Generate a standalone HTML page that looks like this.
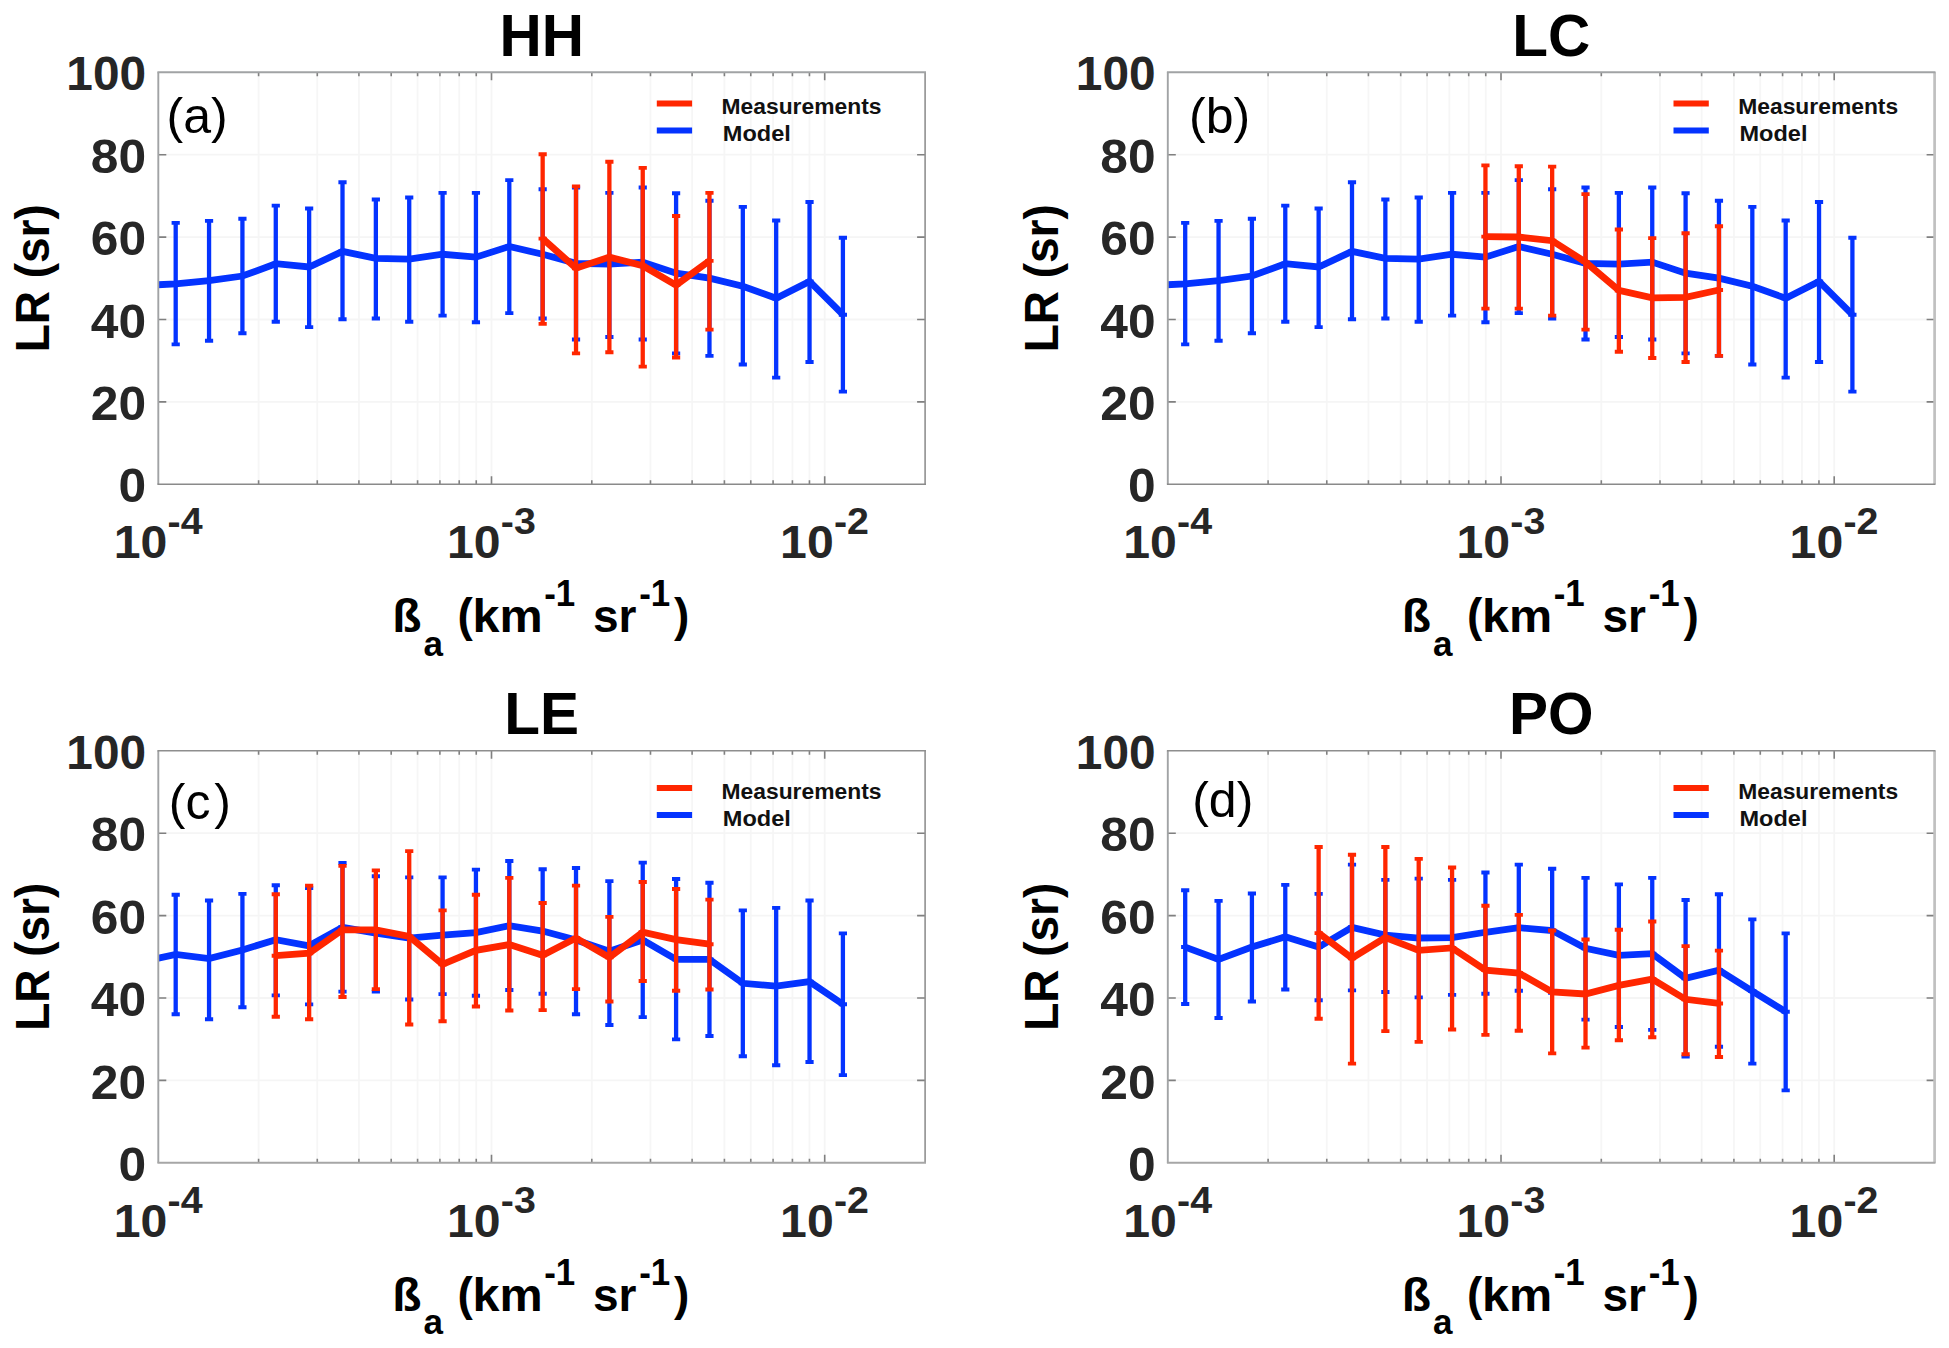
<!DOCTYPE html>
<html><head><meta charset="utf-8"><title>LR vs backscatter</title>
<style>
html,body{margin:0;padding:0;background:#fff;}
svg{display:block;font-family:"Liberation Sans",sans-serif;}
</style></head>
<body>
<svg width="1949" height="1348" viewBox="0 0 1949 1348">
<rect width="1949" height="1348" fill="#fff"/>
<g><clipPath id="cpa"><rect x="158.3" y="72.3" width="766.8" height="412"/></clipPath>
<path d="M258.6 72.3V484.3M317.28 72.3V484.3M358.91 72.3V484.3M391.2 72.3V484.3M417.58 72.3V484.3M439.89 72.3V484.3M459.21 72.3V484.3M476.25 72.3V484.3M591.8 72.3V484.3M650.48 72.3V484.3M692.11 72.3V484.3M724.4 72.3V484.3M750.78 72.3V484.3M773.09 72.3V484.3M792.41 72.3V484.3M809.45 72.3V484.3" stroke="#f6f6f6" stroke-width="1.8"/>
<path d="M491.5 72.3V484.3M824.7 72.3V484.3" stroke="#f5f5f5" stroke-width="1.8"/>
<path d="M158.3 401.9H925.1M158.3 319.5H925.1M158.3 237.1H925.1M158.3 154.7H925.1" stroke="#f5f5f5" stroke-width="1.8"/>
<g clip-path="url(#cpa)"><g stroke="#0433FF" fill="none"><path d="M142.34 224.67V346.33" stroke-width="4.3"/><path d="M138.24 224.97H146.44M138.24 346.03H146.44M138.24 285.5H146.44" stroke-width="3.9"/><path d="M175.7 222.62V344.68" stroke-width="4.3"/><path d="M171.6 222.92H179.8M171.6 344.38H179.8M171.6 283.85H179.8" stroke-width="3.9"/><path d="M209.06 220.56V340.98" stroke-width="4.3"/><path d="M204.96 220.86H213.16M204.96 340.68H213.16M204.96 280.57H213.16" stroke-width="3.9"/><path d="M242.42 218.5V333.59" stroke-width="4.3"/><path d="M238.32 218.81H246.52M238.32 333.29H246.52M238.32 276.05H246.52" stroke-width="3.9"/><path d="M275.78 205.35V322.08" stroke-width="4.3"/><path d="M271.68 205.65H279.88M271.68 321.78H279.88M271.68 263.72H279.88" stroke-width="3.9"/><path d="M309.14 208.23V327.42" stroke-width="4.3"/><path d="M305.04 208.53H313.24M305.04 327.12H313.24M305.04 267H313.24" stroke-width="3.9"/><path d="M342.5 181.93V319.61" stroke-width="4.3"/><path d="M338.4 182.23H346.6M338.4 319.31H346.6M338.4 251.38H346.6" stroke-width="3.9"/><path d="M375.86 199.19V318.79" stroke-width="4.3"/><path d="M371.76 199.49H379.96M371.76 318.49H379.96M371.76 258.37H379.96" stroke-width="3.9"/><path d="M409.22 197.13V322.08" stroke-width="4.3"/><path d="M405.12 197.43H413.32M405.12 321.78H413.32M405.12 259.19H413.32" stroke-width="3.9"/><path d="M442.58 192.61V315.91" stroke-width="4.3"/><path d="M438.48 192.91H446.68M438.48 315.61H446.68M438.48 254.26H446.68" stroke-width="3.9"/><path d="M475.94 192.61V322.49" stroke-width="4.3"/><path d="M471.84 192.91H480.04M471.84 322.19H480.04M471.84 257.14H480.04" stroke-width="3.9"/><path d="M509.3 179.87V313.45" stroke-width="4.3"/><path d="M505.2 180.17H513.4M505.2 313.15H513.4M505.2 246.45H513.4" stroke-width="3.9"/><path d="M542.66 188.91V318.79" stroke-width="4.3"/><path d="M538.56 189.21H546.76M538.56 318.49H546.76M538.56 254.26H546.76" stroke-width="3.9"/><path d="M576.02 187.27V339.75" stroke-width="4.3"/><path d="M571.92 187.57H580.12M571.92 339.45H580.12M571.92 263.3H580.12" stroke-width="3.9"/><path d="M609.38 192.61V337.28" stroke-width="4.3"/><path d="M605.28 192.91H613.48M605.28 336.98H613.48M605.28 264.13H613.48" stroke-width="3.9"/><path d="M642.74 187.27V339.75" stroke-width="4.3"/><path d="M638.64 187.57H646.84M638.64 339.45H646.84M638.64 262.07H646.84" stroke-width="3.9"/><path d="M676.1 193.02V353.72" stroke-width="4.3"/><path d="M672 193.32H680.2M672 353.42H680.2M672 273.17H680.2" stroke-width="3.9"/><path d="M709.46 200.42V356.19" stroke-width="4.3"/><path d="M705.36 200.72H713.56M705.36 355.89H713.56M705.36 278.1H713.56" stroke-width="3.9"/><path d="M742.82 206.59V364.82" stroke-width="4.3"/><path d="M738.72 206.89H746.92M738.72 364.52H746.92M738.72 286.32H746.92" stroke-width="3.9"/><path d="M776.18 220.15V377.97" stroke-width="4.3"/><path d="M772.08 220.45H780.28M772.08 377.67H780.28M772.08 298.24H780.28" stroke-width="3.9"/><path d="M809.54 201.65V362.36" stroke-width="4.3"/><path d="M805.44 201.95H813.64M805.44 362.06H813.64M805.44 281.39H813.64" stroke-width="3.9"/><path d="M842.9 237.41V391.95" stroke-width="4.3"/><path d="M838.8 237.71H847M838.8 391.65H847M838.8 314.68H847" stroke-width="3.9"/><path d="M142.34 285.5L175.7 283.85L209.06 280.57L242.42 276.05L275.78 263.72L309.14 267L342.5 251.38L375.86 258.37L409.22 259.19L442.58 254.26L475.94 257.14L509.3 246.45L542.66 254.26L576.02 263.3L609.38 264.13L642.74 262.07L676.1 273.17L709.46 278.1L742.82 286.32L776.18 298.24L809.54 281.39L842.9 314.68" stroke-width="6.8" stroke-linejoin="miter" fill="none"/></g><g stroke="#FF2600" fill="none"><path d="M542.66 153.98V324.13" stroke-width="4.3"/><path d="M538.56 154.28H546.76M538.56 323.83H546.76M538.56 238.64H546.76" stroke-width="3.9"/><path d="M576.02 186.04V353.72" stroke-width="4.3"/><path d="M571.92 186.34H580.12M571.92 353.42H580.12M571.92 268.24H580.12" stroke-width="3.9"/><path d="M609.38 161.38V352.49" stroke-width="4.3"/><path d="M605.28 161.68H613.48M605.28 352.19H613.48M605.28 257.14H613.48" stroke-width="3.9"/><path d="M642.74 167.54V366.88" stroke-width="4.3"/><path d="M638.64 167.84H646.84M638.64 366.58H646.84M638.64 265.77H646.84" stroke-width="3.9"/><path d="M676.1 215.63V357.83" stroke-width="4.3"/><path d="M672 215.93H680.2M672 357.53H680.2M672 285.09H680.2" stroke-width="3.9"/><path d="M709.46 192.61V329.89" stroke-width="4.3"/><path d="M705.36 192.91H713.56M705.36 329.59H713.56M705.36 260.84H713.56" stroke-width="3.9"/><path d="M542.66 238.64L576.02 268.24L609.38 257.14L642.74 265.77L676.1 285.09L709.46 260.84" stroke-width="6.8" stroke-linejoin="miter" fill="none"/></g></g>
<path d="M258.6 484.3v-4M258.6 72.3v4M317.28 484.3v-4M317.28 72.3v4M358.91 484.3v-4M358.91 72.3v4M391.2 484.3v-4M391.2 72.3v4M417.58 484.3v-4M417.58 72.3v4M439.89 484.3v-4M439.89 72.3v4M459.21 484.3v-4M459.21 72.3v4M476.25 484.3v-4M476.25 72.3v4M591.8 484.3v-4M591.8 72.3v4M650.48 484.3v-4M650.48 72.3v4M692.11 484.3v-4M692.11 72.3v4M724.4 484.3v-4M724.4 72.3v4M750.78 484.3v-4M750.78 72.3v4M773.09 484.3v-4M773.09 72.3v4M792.41 484.3v-4M792.41 72.3v4M809.45 484.3v-4M809.45 72.3v4M491.5 484.3v-8M491.5 72.3v8M824.7 484.3v-8M824.7 72.3v8M158.3 401.9h8M925.1 401.9h-8M158.3 319.5h8M925.1 319.5h-8M158.3 237.1h8M925.1 237.1h-8M158.3 154.7h8M925.1 154.7h-8" stroke="#808080" stroke-width="1.6" fill="none"/>
<path d="M158.3 72.3V484.3" stroke="#a1a3a5" stroke-width="1.9" fill="none"/>
<path d="M925.1 72.3V484.3" stroke="#909090" stroke-width="1.6" fill="none"/>
<path d="M157.4 72.3H926" stroke="#a1a3a5" stroke-width="1.9" fill="none"/>
<path d="M157.4 484.3H926" stroke="#8a8a8a" stroke-width="1.5" fill="none"/>
<text transform="translate(146.1 502.4) scale(1.04 1)" font-size="47.8" text-anchor="end" font-weight="bold" fill="#262626">0</text>
<text transform="translate(146.1 420) scale(1.04 1)" font-size="47.8" text-anchor="end" font-weight="bold" fill="#262626">20</text>
<text transform="translate(146.1 337.6) scale(1.04 1)" font-size="47.8" text-anchor="end" font-weight="bold" fill="#262626">40</text>
<text transform="translate(146.1 255.2) scale(1.04 1)" font-size="47.8" text-anchor="end" font-weight="bold" fill="#262626">60</text>
<text transform="translate(146.1 172.8) scale(1.04 1)" font-size="47.8" text-anchor="end" font-weight="bold" fill="#262626">80</text>
<text transform="translate(146.1 90.4) scale(1.0 1)" font-size="47.8" text-anchor="end" font-weight="bold" fill="#262626">100</text>
<text transform="translate(113.7 558.1) scale(1.06 1)" font-size="45.5" font-weight="bold" fill="#262626">10</text>
<text transform="translate(167.6 533.9) scale(1.07 1)" font-size="36.8" font-weight="bold" fill="#262626">-4</text>
<text transform="translate(446.9 558.1) scale(1.06 1)" font-size="45.5" font-weight="bold" fill="#262626">10</text>
<text transform="translate(500.8 533.9) scale(1.07 1)" font-size="36.8" font-weight="bold" fill="#262626">-3</text>
<text transform="translate(780.1 558.1) scale(1.06 1)" font-size="45.5" font-weight="bold" fill="#262626">10</text>
<text transform="translate(834 533.9) scale(1.07 1)" font-size="36.8" font-weight="bold" fill="#262626">-2</text>
<text x="541.7" y="55.7" text-anchor="middle" font-size="58.5" font-weight="bold" fill="#000">HH</text>
<g font-weight="bold" fill="#000" font-size="46"><text x="392.3" y="631.6" textLength="29.2" lengthAdjust="spacingAndGlyphs">ß</text><text x="423.5" y="655.9" font-size="35">a</text><text x="457.5" y="630.6">(</text><text x="472.6" y="631.6" textLength="70.2" lengthAdjust="spacingAndGlyphs">km</text><text transform="translate(544.2 606.1) scale(0.955 1)" font-size="36.6">-1</text><text x="593" y="631.6">sr</text><text transform="translate(639.2 606.1) scale(0.955 1)" font-size="36.6">-1</text><text x="674" y="630.6">)</text></g>
<text transform="translate(48.5 278.3) rotate(-90)" text-anchor="middle" font-size="47.8" textLength="148" lengthAdjust="spacingAndGlyphs" font-weight="bold" fill="#000">LR (sr)</text>
<text x="166.5" y="133.3" font-size="50" fill="#000">(a)</text>
<path d="M656.8 103.5h35.3" stroke="#FF2600" stroke-width="6"/>
<path d="M656.8 130.5h35.3" stroke="#0433FF" stroke-width="6"/>
<text x="721.5" y="114.4" font-size="22.6" font-weight="bold" fill="#111" textLength="160" lengthAdjust="spacingAndGlyphs">Measurements</text>
<text x="722.8" y="141.1" font-size="22.6" font-weight="bold" fill="#111" textLength="68" lengthAdjust="spacingAndGlyphs">Model</text></g>
<g><clipPath id="cpb"><rect x="1167.8" y="72.3" width="766.8" height="412"/></clipPath>
<path d="M1268.1 72.3V484.3M1326.78 72.3V484.3M1368.41 72.3V484.3M1400.7 72.3V484.3M1427.08 72.3V484.3M1449.39 72.3V484.3M1468.71 72.3V484.3M1485.75 72.3V484.3M1601.3 72.3V484.3M1659.98 72.3V484.3M1701.61 72.3V484.3M1733.9 72.3V484.3M1760.28 72.3V484.3M1782.59 72.3V484.3M1801.91 72.3V484.3M1818.95 72.3V484.3" stroke="#f6f6f6" stroke-width="1.8"/>
<path d="M1501 72.3V484.3M1834.2 72.3V484.3" stroke="#f5f5f5" stroke-width="1.8"/>
<path d="M1167.8 401.9H1934.6M1167.8 319.5H1934.6M1167.8 237.1H1934.6M1167.8 154.7H1934.6" stroke="#f5f5f5" stroke-width="1.8"/>
<g clip-path="url(#cpb)"><g stroke="#0433FF" fill="none"><path d="M1151.84 224.67V346.33" stroke-width="4.3"/><path d="M1147.74 224.97H1155.94M1147.74 346.03H1155.94M1147.74 285.5H1155.94" stroke-width="3.9"/><path d="M1185.2 222.62V344.68" stroke-width="4.3"/><path d="M1181.1 222.92H1189.3M1181.1 344.38H1189.3M1181.1 283.85H1189.3" stroke-width="3.9"/><path d="M1218.56 220.56V340.98" stroke-width="4.3"/><path d="M1214.46 220.86H1222.66M1214.46 340.68H1222.66M1214.46 280.57H1222.66" stroke-width="3.9"/><path d="M1251.92 218.5V333.59" stroke-width="4.3"/><path d="M1247.82 218.81H1256.02M1247.82 333.29H1256.02M1247.82 276.05H1256.02" stroke-width="3.9"/><path d="M1285.28 205.35V322.08" stroke-width="4.3"/><path d="M1281.18 205.65H1289.38M1281.18 321.78H1289.38M1281.18 263.72H1289.38" stroke-width="3.9"/><path d="M1318.64 208.23V327.42" stroke-width="4.3"/><path d="M1314.54 208.53H1322.74M1314.54 327.12H1322.74M1314.54 267H1322.74" stroke-width="3.9"/><path d="M1352 181.93V319.61" stroke-width="4.3"/><path d="M1347.9 182.23H1356.1M1347.9 319.31H1356.1M1347.9 251.38H1356.1" stroke-width="3.9"/><path d="M1385.36 199.19V318.79" stroke-width="4.3"/><path d="M1381.26 199.49H1389.46M1381.26 318.49H1389.46M1381.26 258.37H1389.46" stroke-width="3.9"/><path d="M1418.72 197.13V322.08" stroke-width="4.3"/><path d="M1414.62 197.43H1422.82M1414.62 321.78H1422.82M1414.62 259.19H1422.82" stroke-width="3.9"/><path d="M1452.08 192.61V315.91" stroke-width="4.3"/><path d="M1447.98 192.91H1456.18M1447.98 315.61H1456.18M1447.98 254.26H1456.18" stroke-width="3.9"/><path d="M1485.44 192.61V322.49" stroke-width="4.3"/><path d="M1481.34 192.91H1489.54M1481.34 322.19H1489.54M1481.34 257.14H1489.54" stroke-width="3.9"/><path d="M1518.8 179.87V313.45" stroke-width="4.3"/><path d="M1514.7 180.17H1522.9M1514.7 313.15H1522.9M1514.7 246.45H1522.9" stroke-width="3.9"/><path d="M1552.16 188.91V318.79" stroke-width="4.3"/><path d="M1548.06 189.21H1556.26M1548.06 318.49H1556.26M1548.06 254.26H1556.26" stroke-width="3.9"/><path d="M1585.52 187.27V339.75" stroke-width="4.3"/><path d="M1581.42 187.57H1589.62M1581.42 339.45H1589.62M1581.42 263.3H1589.62" stroke-width="3.9"/><path d="M1618.88 192.61V337.28" stroke-width="4.3"/><path d="M1614.78 192.91H1622.98M1614.78 336.98H1622.98M1614.78 264.13H1622.98" stroke-width="3.9"/><path d="M1652.24 187.27V339.75" stroke-width="4.3"/><path d="M1648.14 187.57H1656.34M1648.14 339.45H1656.34M1648.14 262.07H1656.34" stroke-width="3.9"/><path d="M1685.6 193.02V353.72" stroke-width="4.3"/><path d="M1681.5 193.32H1689.7M1681.5 353.42H1689.7M1681.5 273.17H1689.7" stroke-width="3.9"/><path d="M1718.96 200.42V356.19" stroke-width="4.3"/><path d="M1714.86 200.72H1723.06M1714.86 355.89H1723.06M1714.86 278.1H1723.06" stroke-width="3.9"/><path d="M1752.32 206.59V364.82" stroke-width="4.3"/><path d="M1748.22 206.89H1756.42M1748.22 364.52H1756.42M1748.22 286.32H1756.42" stroke-width="3.9"/><path d="M1785.68 220.15V377.97" stroke-width="4.3"/><path d="M1781.58 220.45H1789.78M1781.58 377.67H1789.78M1781.58 298.24H1789.78" stroke-width="3.9"/><path d="M1819.04 201.65V362.36" stroke-width="4.3"/><path d="M1814.94 201.95H1823.14M1814.94 362.06H1823.14M1814.94 281.39H1823.14" stroke-width="3.9"/><path d="M1852.4 237.41V391.95" stroke-width="4.3"/><path d="M1848.3 237.71H1856.5M1848.3 391.65H1856.5M1848.3 314.68H1856.5" stroke-width="3.9"/><path d="M1151.84 285.5L1185.2 283.85L1218.56 280.57L1251.92 276.05L1285.28 263.72L1318.64 267L1352 251.38L1385.36 258.37L1418.72 259.19L1452.08 254.26L1485.44 257.14L1518.8 246.45L1552.16 254.26L1585.52 263.3L1618.88 264.13L1652.24 262.07L1685.6 273.17L1718.96 278.1L1752.32 286.32L1785.68 298.24L1819.04 281.39L1852.4 314.68" stroke-width="6.8" stroke-linejoin="miter" fill="none"/></g><g stroke="#FF2600" fill="none"><path d="M1485.44 165.07V308.93" stroke-width="4.3"/><path d="M1481.34 165.38H1489.54M1481.34 308.62H1489.54M1481.34 236.59H1489.54" stroke-width="3.9"/><path d="M1518.8 165.9V308.93" stroke-width="4.3"/><path d="M1514.7 166.2H1522.9M1514.7 308.62H1522.9M1514.7 237H1522.9" stroke-width="3.9"/><path d="M1552.16 166.31V315.91" stroke-width="4.3"/><path d="M1548.06 166.61H1556.26M1548.06 315.61H1556.26M1548.06 240.7H1556.26" stroke-width="3.9"/><path d="M1585.52 193.85V329.89" stroke-width="4.3"/><path d="M1581.42 194.15H1589.62M1581.42 329.59H1589.62M1581.42 262.07H1589.62" stroke-width="3.9"/><path d="M1618.88 229.19V352.08" stroke-width="4.3"/><path d="M1614.78 229.49H1622.98M1614.78 351.78H1622.98M1614.78 290.43H1622.98" stroke-width="3.9"/><path d="M1652.24 237.82V358.25" stroke-width="4.3"/><path d="M1648.14 238.12H1656.34M1648.14 357.94H1656.34M1648.14 297.83H1656.34" stroke-width="3.9"/><path d="M1685.6 232.89V362.36" stroke-width="4.3"/><path d="M1681.5 233.19H1689.7M1681.5 362.06H1689.7M1681.5 297.42H1689.7" stroke-width="3.9"/><path d="M1718.96 225.9V356.19" stroke-width="4.3"/><path d="M1714.86 226.2H1723.06M1714.86 355.89H1723.06M1714.86 290.02H1723.06" stroke-width="3.9"/><path d="M1485.44 236.59L1518.8 237L1552.16 240.7L1585.52 262.07L1618.88 290.43L1652.24 297.83L1685.6 297.42L1718.96 290.02" stroke-width="6.8" stroke-linejoin="miter" fill="none"/></g></g>
<path d="M1268.1 484.3v-4M1268.1 72.3v4M1326.78 484.3v-4M1326.78 72.3v4M1368.41 484.3v-4M1368.41 72.3v4M1400.7 484.3v-4M1400.7 72.3v4M1427.08 484.3v-4M1427.08 72.3v4M1449.39 484.3v-4M1449.39 72.3v4M1468.71 484.3v-4M1468.71 72.3v4M1485.75 484.3v-4M1485.75 72.3v4M1601.3 484.3v-4M1601.3 72.3v4M1659.98 484.3v-4M1659.98 72.3v4M1701.61 484.3v-4M1701.61 72.3v4M1733.9 484.3v-4M1733.9 72.3v4M1760.28 484.3v-4M1760.28 72.3v4M1782.59 484.3v-4M1782.59 72.3v4M1801.91 484.3v-4M1801.91 72.3v4M1818.95 484.3v-4M1818.95 72.3v4M1501 484.3v-8M1501 72.3v8M1834.2 484.3v-8M1834.2 72.3v8M1167.8 401.9h8M1934.6 401.9h-8M1167.8 319.5h8M1934.6 319.5h-8M1167.8 237.1h8M1934.6 237.1h-8M1167.8 154.7h8M1934.6 154.7h-8" stroke="#808080" stroke-width="1.6" fill="none"/>
<path d="M1167.8 72.3V484.3" stroke="#a1a3a5" stroke-width="1.9" fill="none"/>
<path d="M1934.6 72.3V484.3" stroke="#c0c0c0" stroke-width="2.7" fill="none"/>
<path d="M1166.9 72.3H1935.5" stroke="#a1a3a5" stroke-width="1.9" fill="none"/>
<path d="M1166.9 484.3H1935.5" stroke="#8a8a8a" stroke-width="1.5" fill="none"/>
<text transform="translate(1155.6 502.4) scale(1.04 1)" font-size="47.8" text-anchor="end" font-weight="bold" fill="#262626">0</text>
<text transform="translate(1155.6 420) scale(1.04 1)" font-size="47.8" text-anchor="end" font-weight="bold" fill="#262626">20</text>
<text transform="translate(1155.6 337.6) scale(1.04 1)" font-size="47.8" text-anchor="end" font-weight="bold" fill="#262626">40</text>
<text transform="translate(1155.6 255.2) scale(1.04 1)" font-size="47.8" text-anchor="end" font-weight="bold" fill="#262626">60</text>
<text transform="translate(1155.6 172.8) scale(1.04 1)" font-size="47.8" text-anchor="end" font-weight="bold" fill="#262626">80</text>
<text transform="translate(1155.6 90.4) scale(1.0 1)" font-size="47.8" text-anchor="end" font-weight="bold" fill="#262626">100</text>
<text transform="translate(1123.2 558.1) scale(1.06 1)" font-size="45.5" font-weight="bold" fill="#262626">10</text>
<text transform="translate(1177.1 533.9) scale(1.07 1)" font-size="36.8" font-weight="bold" fill="#262626">-4</text>
<text transform="translate(1456.4 558.1) scale(1.06 1)" font-size="45.5" font-weight="bold" fill="#262626">10</text>
<text transform="translate(1510.3 533.9) scale(1.07 1)" font-size="36.8" font-weight="bold" fill="#262626">-3</text>
<text transform="translate(1789.6 558.1) scale(1.06 1)" font-size="45.5" font-weight="bold" fill="#262626">10</text>
<text transform="translate(1843.5 533.9) scale(1.07 1)" font-size="36.8" font-weight="bold" fill="#262626">-2</text>
<text x="1551.2" y="55.7" text-anchor="middle" font-size="58.5" font-weight="bold" fill="#000">LC</text>
<g font-weight="bold" fill="#000" font-size="46"><text x="1401.8" y="631.6" textLength="29.2" lengthAdjust="spacingAndGlyphs">ß</text><text x="1433" y="655.9" font-size="35">a</text><text x="1467" y="630.6">(</text><text x="1482.1" y="631.6" textLength="70.2" lengthAdjust="spacingAndGlyphs">km</text><text transform="translate(1553.7 606.1) scale(0.955 1)" font-size="36.6">-1</text><text x="1602.5" y="631.6">sr</text><text transform="translate(1648.7 606.1) scale(0.955 1)" font-size="36.6">-1</text><text x="1683.5" y="630.6">)</text></g>
<text transform="translate(1058 278.3) rotate(-90)" text-anchor="middle" font-size="47.8" textLength="148" lengthAdjust="spacingAndGlyphs" font-weight="bold" fill="#000">LR (sr)</text>
<text x="1189" y="133.3" font-size="50" fill="#000">(b)</text>
<path d="M1673.5 103.5h35.3" stroke="#FF2600" stroke-width="6"/>
<path d="M1673.5 130.5h35.3" stroke="#0433FF" stroke-width="6"/>
<text x="1738.2" y="114.4" font-size="22.6" font-weight="bold" fill="#111" textLength="160" lengthAdjust="spacingAndGlyphs">Measurements</text>
<text x="1739.5" y="141.1" font-size="22.6" font-weight="bold" fill="#111" textLength="68" lengthAdjust="spacingAndGlyphs">Model</text></g>
<g><clipPath id="cpc"><rect x="158.3" y="750.8" width="766.8" height="412"/></clipPath>
<path d="M258.6 750.8V1162.8M317.28 750.8V1162.8M358.91 750.8V1162.8M391.2 750.8V1162.8M417.58 750.8V1162.8M439.89 750.8V1162.8M459.21 750.8V1162.8M476.25 750.8V1162.8M591.8 750.8V1162.8M650.48 750.8V1162.8M692.11 750.8V1162.8M724.4 750.8V1162.8M750.78 750.8V1162.8M773.09 750.8V1162.8M792.41 750.8V1162.8M809.45 750.8V1162.8" stroke="#f6f6f6" stroke-width="1.8"/>
<path d="M491.5 750.8V1162.8M824.7 750.8V1162.8" stroke="#f5f5f5" stroke-width="1.8"/>
<path d="M158.3 1080.4H925.1M158.3 998H925.1M158.3 915.6H925.1M158.3 833.2H925.1" stroke="#f5f5f5" stroke-width="1.8"/>
<g clip-path="url(#cpc)"><g stroke="#0433FF" fill="none"><path d="M142.34 901.4V1021.56" stroke-width="4.3"/><path d="M138.24 901.7H146.44M138.24 1021.26H146.44M138.24 961.48H146.44" stroke-width="3.9"/><path d="M175.7 894.4V1014.56" stroke-width="4.3"/><path d="M171.6 894.7H179.8M171.6 1014.26H179.8M171.6 954.48H179.8" stroke-width="3.9"/><path d="M209.06 900.16V1019.5" stroke-width="4.3"/><path d="M204.96 900.46H213.16M204.96 1019.2H213.16M204.96 958.6H213.16" stroke-width="3.9"/><path d="M242.42 893.58V1007.56" stroke-width="4.3"/><path d="M238.32 893.88H246.52M238.32 1007.26H246.52M238.32 949.95H246.52" stroke-width="3.9"/><path d="M275.78 884.94V995.63" stroke-width="4.3"/><path d="M271.68 885.24H279.88M271.68 995.33H279.88M271.68 939.67H279.88" stroke-width="3.9"/><path d="M309.14 887.82V1004.68" stroke-width="4.3"/><path d="M305.04 888.12H313.24M305.04 1004.38H313.24M305.04 945.84H313.24" stroke-width="3.9"/><path d="M342.5 862.72V991.93" stroke-width="4.3"/><path d="M338.4 863.02H346.6M338.4 991.63H346.6M338.4 927.32H346.6" stroke-width="3.9"/><path d="M375.86 875.88V991.93" stroke-width="4.3"/><path d="M371.76 876.18H379.96M371.76 991.63H379.96M371.76 933.08H379.96" stroke-width="3.9"/><path d="M409.22 877.12V999.75" stroke-width="4.3"/><path d="M405.12 877.42H413.32M405.12 999.45H413.32M405.12 938.02H413.32" stroke-width="3.9"/><path d="M442.58 877.12V994.4" stroke-width="4.3"/><path d="M438.48 877.42H446.68M438.48 994.1H446.68M438.48 935.14H446.68" stroke-width="3.9"/><path d="M475.94 869.3V996.04" stroke-width="4.3"/><path d="M471.84 869.6H480.04M471.84 995.74H480.04M471.84 932.67H480.04" stroke-width="3.9"/><path d="M509.3 860.66V990.28" stroke-width="4.3"/><path d="M505.2 860.96H513.4M505.2 989.98H513.4M505.2 925.68H513.4" stroke-width="3.9"/><path d="M542.66 868.89V993.99" stroke-width="4.3"/><path d="M538.56 869.19H546.76M538.56 993.69H546.76M538.56 931.03H546.76" stroke-width="3.9"/><path d="M576.02 867.65V1014.56" stroke-width="4.3"/><path d="M571.92 867.95H580.12M571.92 1014.26H580.12M571.92 940.08H580.12" stroke-width="3.9"/><path d="M609.38 880.82V1025.26" stroke-width="4.3"/><path d="M605.28 881.12H613.48M605.28 1024.96H613.48M605.28 951.19H613.48" stroke-width="3.9"/><path d="M642.74 862.31V1017.44" stroke-width="4.3"/><path d="M638.64 862.61H646.84M638.64 1017.14H646.84M638.64 940.08H646.84" stroke-width="3.9"/><path d="M676.1 878.77V1039.66" stroke-width="4.3"/><path d="M672 879.07H680.2M672 1039.36H680.2M672 959.42H680.2" stroke-width="3.9"/><path d="M709.46 882.47V1036.37" stroke-width="4.3"/><path d="M705.36 882.77H713.56M705.36 1036.07H713.56M705.36 959.42H713.56" stroke-width="3.9"/><path d="M742.82 910.04V1056.53" stroke-width="4.3"/><path d="M738.72 910.34H746.92M738.72 1056.23H746.92M738.72 983.29H746.92" stroke-width="3.9"/><path d="M776.18 907.57V1065.59" stroke-width="4.3"/><path d="M772.08 907.87H780.28M772.08 1065.29H780.28M772.08 986.17H780.28" stroke-width="3.9"/><path d="M809.54 900.16V1062.29" stroke-width="4.3"/><path d="M805.44 900.46H813.64M805.44 1061.99H813.64M805.44 981.64H813.64" stroke-width="3.9"/><path d="M842.9 933.08V1075.46" stroke-width="4.3"/><path d="M838.8 933.38H847M838.8 1075.16H847M838.8 1004.27H847" stroke-width="3.9"/><path d="M142.34 961.48L175.7 954.48L209.06 958.6L242.42 949.95L275.78 939.67L309.14 945.84L342.5 927.32L375.86 933.08L409.22 938.02L442.58 935.14L475.94 932.67L509.3 925.68L542.66 931.03L576.02 940.08L609.38 951.19L642.74 940.08L676.1 959.42L709.46 959.42L742.82 983.29L776.18 986.17L809.54 981.64L842.9 1004.27" stroke-width="6.8" stroke-linejoin="miter" fill="none"/></g><g stroke="#FF2600" fill="none"><path d="M275.78 893.99V1017.03" stroke-width="4.3"/><path d="M271.68 894.29H279.88M271.68 1016.73H279.88M271.68 955.72H279.88" stroke-width="3.9"/><path d="M309.14 885.35V1019.5" stroke-width="4.3"/><path d="M305.04 885.65H313.24M305.04 1019.2H313.24M305.04 953.25H313.24" stroke-width="3.9"/><path d="M342.5 865.6V997.28" stroke-width="4.3"/><path d="M338.4 865.9H346.6M338.4 996.98H346.6M338.4 929.79H346.6" stroke-width="3.9"/><path d="M375.86 870.12V989.46" stroke-width="4.3"/><path d="M371.76 870.42H379.96M371.76 989.16H379.96M371.76 929.79H379.96" stroke-width="3.9"/><path d="M409.22 850.78V1024.85" stroke-width="4.3"/><path d="M405.12 851.08H413.32M405.12 1024.55H413.32M405.12 936.38H413.32" stroke-width="3.9"/><path d="M442.58 910.04V1021.56" stroke-width="4.3"/><path d="M438.48 910.34H446.68M438.48 1021.26H446.68M438.48 964.36H446.68" stroke-width="3.9"/><path d="M475.94 894.4V1006.74" stroke-width="4.3"/><path d="M471.84 894.7H480.04M471.84 1006.44H480.04M471.84 950.37H480.04" stroke-width="3.9"/><path d="M509.3 877.53V1010.86" stroke-width="4.3"/><path d="M505.2 877.83H513.4M505.2 1010.56H513.4M505.2 944.61H513.4" stroke-width="3.9"/><path d="M542.66 902.63V1010.45" stroke-width="4.3"/><path d="M538.56 902.93H546.76M538.56 1010.15H546.76M538.56 955.3H546.76" stroke-width="3.9"/><path d="M576.02 885.35V989.46" stroke-width="4.3"/><path d="M571.92 885.65H580.12M571.92 989.16H580.12M571.92 938.02H580.12" stroke-width="3.9"/><path d="M609.38 916.62V1001.8" stroke-width="4.3"/><path d="M605.28 916.92H613.48M605.28 1001.5H613.48M605.28 957.36H613.48" stroke-width="3.9"/><path d="M642.74 881.65V981.23" stroke-width="4.3"/><path d="M638.64 881.95H646.84M638.64 980.93H646.84M638.64 932.26H646.84" stroke-width="3.9"/><path d="M676.1 888.64V991.1" stroke-width="4.3"/><path d="M672 888.94H680.2M672 990.8H680.2M672 939.67H680.2" stroke-width="3.9"/><path d="M709.46 899.34V989.87" stroke-width="4.3"/><path d="M705.36 899.64H713.56M705.36 989.57H713.56M705.36 944.19H713.56" stroke-width="3.9"/><path d="M275.78 955.72L309.14 953.25L342.5 929.79L375.86 929.79L409.22 936.38L442.58 964.36L475.94 950.37L509.3 944.61L542.66 955.3L576.02 938.02L609.38 957.36L642.74 932.26L676.1 939.67L709.46 944.19" stroke-width="6.8" stroke-linejoin="miter" fill="none"/></g></g>
<path d="M258.6 1162.8v-4M258.6 750.8v4M317.28 1162.8v-4M317.28 750.8v4M358.91 1162.8v-4M358.91 750.8v4M391.2 1162.8v-4M391.2 750.8v4M417.58 1162.8v-4M417.58 750.8v4M439.89 1162.8v-4M439.89 750.8v4M459.21 1162.8v-4M459.21 750.8v4M476.25 1162.8v-4M476.25 750.8v4M591.8 1162.8v-4M591.8 750.8v4M650.48 1162.8v-4M650.48 750.8v4M692.11 1162.8v-4M692.11 750.8v4M724.4 1162.8v-4M724.4 750.8v4M750.78 1162.8v-4M750.78 750.8v4M773.09 1162.8v-4M773.09 750.8v4M792.41 1162.8v-4M792.41 750.8v4M809.45 1162.8v-4M809.45 750.8v4M491.5 1162.8v-8M491.5 750.8v8M824.7 1162.8v-8M824.7 750.8v8M158.3 1080.4h8M925.1 1080.4h-8M158.3 998h8M925.1 998h-8M158.3 915.6h8M925.1 915.6h-8M158.3 833.2h8M925.1 833.2h-8" stroke="#808080" stroke-width="1.6" fill="none"/>
<path d="M158.3 750.8V1162.8" stroke="#a1a3a5" stroke-width="1.9" fill="none"/>
<path d="M925.1 750.8V1162.8" stroke="#909090" stroke-width="1.6" fill="none"/>
<path d="M157.4 750.8H926" stroke="#8e8e8e" stroke-width="1.5" fill="none"/>
<path d="M157.4 1162.8H926" stroke="#a6a6a6" stroke-width="1.9" fill="none"/>
<text transform="translate(146.1 1180.9) scale(1.04 1)" font-size="47.8" text-anchor="end" font-weight="bold" fill="#262626">0</text>
<text transform="translate(146.1 1098.5) scale(1.04 1)" font-size="47.8" text-anchor="end" font-weight="bold" fill="#262626">20</text>
<text transform="translate(146.1 1016.1) scale(1.04 1)" font-size="47.8" text-anchor="end" font-weight="bold" fill="#262626">40</text>
<text transform="translate(146.1 933.7) scale(1.04 1)" font-size="47.8" text-anchor="end" font-weight="bold" fill="#262626">60</text>
<text transform="translate(146.1 851.3) scale(1.04 1)" font-size="47.8" text-anchor="end" font-weight="bold" fill="#262626">80</text>
<text transform="translate(146.1 768.9) scale(1.0 1)" font-size="47.8" text-anchor="end" font-weight="bold" fill="#262626">100</text>
<text transform="translate(113.7 1237.2) scale(1.06 1)" font-size="45.5" font-weight="bold" fill="#262626">10</text>
<text transform="translate(167.6 1213) scale(1.07 1)" font-size="36.8" font-weight="bold" fill="#262626">-4</text>
<text transform="translate(446.9 1237.2) scale(1.06 1)" font-size="45.5" font-weight="bold" fill="#262626">10</text>
<text transform="translate(500.8 1213) scale(1.07 1)" font-size="36.8" font-weight="bold" fill="#262626">-3</text>
<text transform="translate(780.1 1237.2) scale(1.06 1)" font-size="45.5" font-weight="bold" fill="#262626">10</text>
<text transform="translate(834 1213) scale(1.07 1)" font-size="36.8" font-weight="bold" fill="#262626">-2</text>
<text x="541.7" y="734.2" text-anchor="middle" font-size="58.5" font-weight="bold" fill="#000">LE</text>
<g font-weight="bold" fill="#000" font-size="46"><text x="392.3" y="1310.82" textLength="29.2" lengthAdjust="spacingAndGlyphs">ß</text><text x="423.5" y="1334.1" font-size="35">a</text><text x="457.5" y="1309.82">(</text><text x="472.6" y="1310.82" textLength="70.2" lengthAdjust="spacingAndGlyphs">km</text><text transform="translate(544.2 1285.32) scale(0.955 1)" font-size="36.6">-1</text><text x="593" y="1310.82">sr</text><text transform="translate(639.2 1285.32) scale(0.955 1)" font-size="36.6">-1</text><text x="674" y="1309.82">)</text></g>
<text transform="translate(48.5 956.8) rotate(-90)" text-anchor="middle" font-size="47.8" textLength="148" lengthAdjust="spacingAndGlyphs" font-weight="bold" fill="#000">LR (sr)</text>
<text x="168.8" y="818.7" font-size="50" fill="#000">(c</text>
<text x="214.2" y="818.7" font-size="50" fill="#000">)</text>
<path d="M656.8 788.1h35.3" stroke="#FF2600" stroke-width="6"/>
<path d="M656.8 815.1h35.3" stroke="#0433FF" stroke-width="6"/>
<text x="721.5" y="799" font-size="22.6" font-weight="bold" fill="#111" textLength="160" lengthAdjust="spacingAndGlyphs">Measurements</text>
<text x="722.8" y="825.7" font-size="22.6" font-weight="bold" fill="#111" textLength="68" lengthAdjust="spacingAndGlyphs">Model</text></g>
<g><clipPath id="cpd"><rect x="1167.8" y="750.8" width="766.8" height="412"/></clipPath>
<path d="M1268.1 750.8V1162.8M1326.78 750.8V1162.8M1368.41 750.8V1162.8M1400.7 750.8V1162.8M1427.08 750.8V1162.8M1449.39 750.8V1162.8M1468.71 750.8V1162.8M1485.75 750.8V1162.8M1601.3 750.8V1162.8M1659.98 750.8V1162.8M1701.61 750.8V1162.8M1733.9 750.8V1162.8M1760.28 750.8V1162.8M1782.59 750.8V1162.8M1801.91 750.8V1162.8M1818.95 750.8V1162.8" stroke="#f6f6f6" stroke-width="1.8"/>
<path d="M1501 750.8V1162.8M1834.2 750.8V1162.8" stroke="#f5f5f5" stroke-width="1.8"/>
<path d="M1167.8 1080.4H1934.6M1167.8 998H1934.6M1167.8 915.6H1934.6M1167.8 833.2H1934.6" stroke="#f5f5f5" stroke-width="1.8"/>
<g clip-path="url(#cpd)"><g stroke="#0433FF" fill="none"><path d="M1185.2 889.88V1004.27" stroke-width="4.3"/><path d="M1181.1 890.18H1189.3M1181.1 1003.97H1189.3M1181.1 947.07H1189.3" stroke-width="3.9"/><path d="M1218.56 900.57V1018.26" stroke-width="4.3"/><path d="M1214.46 900.87H1222.66M1214.46 1017.96H1222.66M1214.46 959.42H1222.66" stroke-width="3.9"/><path d="M1251.92 893.17V1001.8" stroke-width="4.3"/><path d="M1247.82 893.47H1256.02M1247.82 1001.5H1256.02M1247.82 947.07H1256.02" stroke-width="3.9"/><path d="M1285.28 884.53V989.87" stroke-width="4.3"/><path d="M1281.18 884.83H1289.38M1281.18 989.57H1289.38M1281.18 936.79H1289.38" stroke-width="3.9"/><path d="M1318.64 893.58V1000.57" stroke-width="4.3"/><path d="M1314.54 893.88H1322.74M1314.54 1000.27H1322.74M1314.54 947.07H1322.74" stroke-width="3.9"/><path d="M1352 864.36V990.69" stroke-width="4.3"/><path d="M1347.9 864.66H1356.1M1347.9 990.39H1356.1M1347.9 927.32H1356.1" stroke-width="3.9"/><path d="M1385.36 879.59V992.34" stroke-width="4.3"/><path d="M1381.26 879.89H1389.46M1381.26 992.04H1389.46M1381.26 935.14H1389.46" stroke-width="3.9"/><path d="M1418.72 878.35V997.69" stroke-width="4.3"/><path d="M1414.62 878.65H1422.82M1414.62 997.39H1422.82M1414.62 938.02H1422.82" stroke-width="3.9"/><path d="M1452.08 879.59V995.22" stroke-width="4.3"/><path d="M1447.98 879.89H1456.18M1447.98 994.92H1456.18M1447.98 937.61H1456.18" stroke-width="3.9"/><path d="M1485.44 872.18V993.99" stroke-width="4.3"/><path d="M1481.34 872.48H1489.54M1481.34 993.69H1489.54M1481.34 932.26H1489.54" stroke-width="3.9"/><path d="M1518.8 864.36V991.1" stroke-width="4.3"/><path d="M1514.7 864.66H1522.9M1514.7 990.8H1522.9M1514.7 927.73H1522.9" stroke-width="3.9"/><path d="M1552.16 868.48V993.16" stroke-width="4.3"/><path d="M1548.06 868.78H1556.26M1548.06 992.86H1556.26M1548.06 930.61H1556.26" stroke-width="3.9"/><path d="M1585.52 877.53V1019.91" stroke-width="4.3"/><path d="M1581.42 877.83H1589.62M1581.42 1019.61H1589.62M1581.42 948.31H1589.62" stroke-width="3.9"/><path d="M1618.88 884.11V1027.32" stroke-width="4.3"/><path d="M1614.78 884.41H1622.98M1614.78 1027.02H1622.98M1614.78 955.3H1622.98" stroke-width="3.9"/><path d="M1652.24 877.53V1030.2" stroke-width="4.3"/><path d="M1648.14 877.83H1656.34M1648.14 1029.9H1656.34M1648.14 953.66H1656.34" stroke-width="3.9"/><path d="M1685.6 899.75V1056.94" stroke-width="4.3"/><path d="M1681.5 900.05H1689.7M1681.5 1056.64H1689.7M1681.5 978.35H1689.7" stroke-width="3.9"/><path d="M1718.96 893.99V1047.07" stroke-width="4.3"/><path d="M1714.86 894.29H1723.06M1714.86 1046.77H1723.06M1714.86 970.12H1723.06" stroke-width="3.9"/><path d="M1752.32 919.09V1063.94" stroke-width="4.3"/><path d="M1748.22 919.39H1756.42M1748.22 1063.64H1756.42M1748.22 991.1H1756.42" stroke-width="3.9"/><path d="M1785.68 933.08V1090.69" stroke-width="4.3"/><path d="M1781.58 933.38H1789.78M1781.58 1090.39H1789.78M1781.58 1011.68H1789.78" stroke-width="3.9"/><path d="M1185.2 947.07L1218.56 959.42L1251.92 947.07L1285.28 936.79L1318.64 947.07L1352 927.32L1385.36 935.14L1418.72 938.02L1452.08 937.61L1485.44 932.26L1518.8 927.73L1552.16 930.61L1585.52 948.31L1618.88 955.3L1652.24 953.66L1685.6 978.35L1718.96 970.12L1752.32 991.1L1785.68 1011.68" stroke-width="6.8" stroke-linejoin="miter" fill="none"/></g><g stroke="#FF2600" fill="none"><path d="M1318.64 846.67V1019.09" stroke-width="4.3"/><path d="M1314.54 846.97H1322.74M1314.54 1018.79H1322.74M1314.54 933.08H1322.74" stroke-width="3.9"/><path d="M1352 854.49V1063.94" stroke-width="4.3"/><path d="M1347.9 854.79H1356.1M1347.9 1063.64H1356.1M1347.9 958.18H1356.1" stroke-width="3.9"/><path d="M1385.36 846.67V1031.43" stroke-width="4.3"/><path d="M1381.26 846.97H1389.46M1381.26 1031.13H1389.46M1381.26 937.61H1389.46" stroke-width="3.9"/><path d="M1418.72 858.6V1042.13" stroke-width="4.3"/><path d="M1414.62 858.9H1422.82M1414.62 1041.83H1422.82M1414.62 950.37H1422.82" stroke-width="3.9"/><path d="M1452.08 867.24V1029.79" stroke-width="4.3"/><path d="M1447.98 867.54H1456.18M1447.98 1029.49H1456.18M1447.98 947.9H1456.18" stroke-width="3.9"/><path d="M1485.44 905.51V1035.13" stroke-width="4.3"/><path d="M1481.34 905.81H1489.54M1481.34 1034.84H1489.54M1481.34 970.12H1489.54" stroke-width="3.9"/><path d="M1518.8 914.57V1031.02" stroke-width="4.3"/><path d="M1514.7 914.87H1522.9M1514.7 1030.72H1522.9M1514.7 973H1522.9" stroke-width="3.9"/><path d="M1552.16 930.2V1053.65" stroke-width="4.3"/><path d="M1548.06 930.5H1556.26M1548.06 1053.35H1556.26M1548.06 991.93H1556.26" stroke-width="3.9"/><path d="M1585.52 939.26V1047.89" stroke-width="4.3"/><path d="M1581.42 939.56H1589.62M1581.42 1047.59H1589.62M1581.42 993.99H1589.62" stroke-width="3.9"/><path d="M1618.88 929.38V1040.48" stroke-width="4.3"/><path d="M1614.78 929.68H1622.98M1614.78 1040.18H1622.98M1614.78 985.34H1622.98" stroke-width="3.9"/><path d="M1652.24 921.15V1037.6" stroke-width="4.3"/><path d="M1648.14 921.45H1656.34M1648.14 1037.3H1656.34M1648.14 979.17H1656.34" stroke-width="3.9"/><path d="M1685.6 945.84V1054.48" stroke-width="4.3"/><path d="M1681.5 946.14H1689.7M1681.5 1054.18H1689.7M1681.5 999.33H1689.7" stroke-width="3.9"/><path d="M1718.96 950.37V1057.36" stroke-width="4.3"/><path d="M1714.86 950.67H1723.06M1714.86 1057.06H1723.06M1714.86 1003.45H1723.06" stroke-width="3.9"/><path d="M1318.64 933.08L1352 958.18L1385.36 937.61L1418.72 950.37L1452.08 947.9L1485.44 970.12L1518.8 973L1552.16 991.93L1585.52 993.99L1618.88 985.34L1652.24 979.17L1685.6 999.33L1718.96 1003.45" stroke-width="6.8" stroke-linejoin="miter" fill="none"/></g></g>
<path d="M1268.1 1162.8v-4M1268.1 750.8v4M1326.78 1162.8v-4M1326.78 750.8v4M1368.41 1162.8v-4M1368.41 750.8v4M1400.7 1162.8v-4M1400.7 750.8v4M1427.08 1162.8v-4M1427.08 750.8v4M1449.39 1162.8v-4M1449.39 750.8v4M1468.71 1162.8v-4M1468.71 750.8v4M1485.75 1162.8v-4M1485.75 750.8v4M1601.3 1162.8v-4M1601.3 750.8v4M1659.98 1162.8v-4M1659.98 750.8v4M1701.61 1162.8v-4M1701.61 750.8v4M1733.9 1162.8v-4M1733.9 750.8v4M1760.28 1162.8v-4M1760.28 750.8v4M1782.59 1162.8v-4M1782.59 750.8v4M1801.91 1162.8v-4M1801.91 750.8v4M1818.95 1162.8v-4M1818.95 750.8v4M1501 1162.8v-8M1501 750.8v8M1834.2 1162.8v-8M1834.2 750.8v8M1167.8 1080.4h8M1934.6 1080.4h-8M1167.8 998h8M1934.6 998h-8M1167.8 915.6h8M1934.6 915.6h-8M1167.8 833.2h8M1934.6 833.2h-8" stroke="#808080" stroke-width="1.6" fill="none"/>
<path d="M1167.8 750.8V1162.8" stroke="#a1a3a5" stroke-width="1.9" fill="none"/>
<path d="M1934.6 750.8V1162.8" stroke="#c0c0c0" stroke-width="2.7" fill="none"/>
<path d="M1166.9 750.8H1935.5" stroke="#8e8e8e" stroke-width="1.5" fill="none"/>
<path d="M1166.9 1162.8H1935.5" stroke="#a6a6a6" stroke-width="1.9" fill="none"/>
<text transform="translate(1155.6 1180.9) scale(1.04 1)" font-size="47.8" text-anchor="end" font-weight="bold" fill="#262626">0</text>
<text transform="translate(1155.6 1098.5) scale(1.04 1)" font-size="47.8" text-anchor="end" font-weight="bold" fill="#262626">20</text>
<text transform="translate(1155.6 1016.1) scale(1.04 1)" font-size="47.8" text-anchor="end" font-weight="bold" fill="#262626">40</text>
<text transform="translate(1155.6 933.7) scale(1.04 1)" font-size="47.8" text-anchor="end" font-weight="bold" fill="#262626">60</text>
<text transform="translate(1155.6 851.3) scale(1.04 1)" font-size="47.8" text-anchor="end" font-weight="bold" fill="#262626">80</text>
<text transform="translate(1155.6 768.9) scale(1.0 1)" font-size="47.8" text-anchor="end" font-weight="bold" fill="#262626">100</text>
<text transform="translate(1123.2 1237.2) scale(1.06 1)" font-size="45.5" font-weight="bold" fill="#262626">10</text>
<text transform="translate(1177.1 1213) scale(1.07 1)" font-size="36.8" font-weight="bold" fill="#262626">-4</text>
<text transform="translate(1456.4 1237.2) scale(1.06 1)" font-size="45.5" font-weight="bold" fill="#262626">10</text>
<text transform="translate(1510.3 1213) scale(1.07 1)" font-size="36.8" font-weight="bold" fill="#262626">-3</text>
<text transform="translate(1789.6 1237.2) scale(1.06 1)" font-size="45.5" font-weight="bold" fill="#262626">10</text>
<text transform="translate(1843.5 1213) scale(1.07 1)" font-size="36.8" font-weight="bold" fill="#262626">-2</text>
<text x="1551.2" y="734.2" text-anchor="middle" font-size="58.5" font-weight="bold" fill="#000">PO</text>
<g font-weight="bold" fill="#000" font-size="46"><text x="1401.8" y="1310.82" textLength="29.2" lengthAdjust="spacingAndGlyphs">ß</text><text x="1433" y="1334.1" font-size="35">a</text><text x="1467" y="1309.82">(</text><text x="1482.1" y="1310.82" textLength="70.2" lengthAdjust="spacingAndGlyphs">km</text><text transform="translate(1553.7 1285.32) scale(0.955 1)" font-size="36.6">-1</text><text x="1602.5" y="1310.82">sr</text><text transform="translate(1648.7 1285.32) scale(0.955 1)" font-size="36.6">-1</text><text x="1683.5" y="1309.82">)</text></g>
<text transform="translate(1058 956.8) rotate(-90)" text-anchor="middle" font-size="47.8" textLength="148" lengthAdjust="spacingAndGlyphs" font-weight="bold" fill="#000">LR (sr)</text>
<text x="1192.2" y="817.2" font-size="50" fill="#000">(d)</text>
<path d="M1673.5 788.1h35.3" stroke="#FF2600" stroke-width="6"/>
<path d="M1673.5 815.1h35.3" stroke="#0433FF" stroke-width="6"/>
<text x="1738.2" y="799" font-size="22.6" font-weight="bold" fill="#111" textLength="160" lengthAdjust="spacingAndGlyphs">Measurements</text>
<text x="1739.5" y="825.7" font-size="22.6" font-weight="bold" fill="#111" textLength="68" lengthAdjust="spacingAndGlyphs">Model</text></g>
</svg>
</body></html>
